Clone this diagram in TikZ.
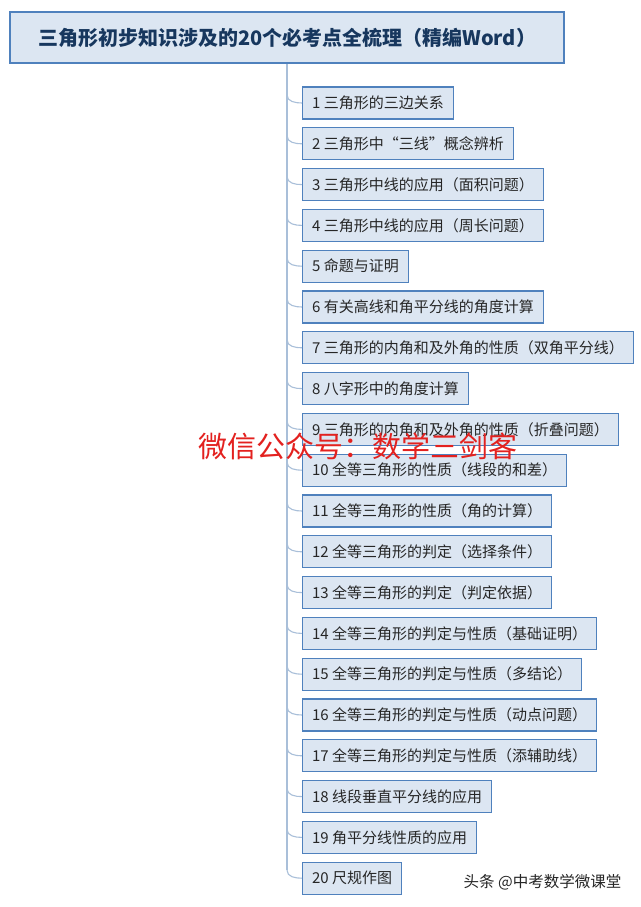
\documentclass[tikz,border=0pt]{standalone}
\usepackage{fontspec}
\setmainfont{Noto Sans CJK SC}
\definecolor{boxblue}{HTML}{4F81BD}
\definecolor{boxfill}{HTML}{DCE6F2}
\definecolor{titletext}{HTML}{17375E}
\definecolor{itemtext}{HTML}{262626}
\definecolor{trunkcol}{HTML}{A9BFD9}
\definecolor{wmred}{HTML}{E3211F}
\tikzset{
  itembox/.style={draw=boxblue, line width=1.2pt, fill=boxfill, anchor=west,
    minimum height=32pt, inner xsep=9.5pt, inner ysep=0pt,
    font=\fontsize{15}{15}\selectfont, text=itemtext},
  titlebox/.style={draw=boxblue, line width=2.6pt, fill=boxfill,
    minimum width=554pt, minimum height=51pt, inner sep=0pt,
    font=\fontsize{20}{20}\selectfont\bfseries, text=titletext},
  trunk/.style={draw=trunkcol, line width=1.1pt},
}
\begin{document}
\begin{tikzpicture}[x=1pt,y=-1pt]
\useasboundingbox (0,0) rectangle (640,907);
\fill[white] (0,0) rectangle (640,907);
\node[titlebox] (title) at (287,37.5) {三角形初步知识涉及的20个必考点全梳理（精编Word）};
\foreach \i/\t in {
 1/{1 三角形的三边关系},
 2/{2 三角形中“三线”概念辨析},
 3/{3 三角形中线的应用（面积问题）},
 4/{4 三角形中线的应用（周长问题）},
 5/{5 命题与证明},
 6/{6 有关高线和角平分线的角度计算},
 7/{7 三角形的内角和及外角的性质（双角平分线）},
 8/{8 八字形中的角度计算},
 9/{9 三角形的内角和及外角的性质（折叠问题）},
 10/{10 全等三角形的性质（线段的和差）},
 11/{11 全等三角形的性质（角的计算）},
 12/{12 全等三角形的判定（选择条件）},
 13/{13 全等三角形的判定（判定依据）},
 14/{14 全等三角形的判定与性质（基础证明）},
 15/{15 全等三角形的判定与性质（多结论）},
 16/{16 全等三角形的判定与性质（动点问题）},
 17/{17 全等三角形的判定与性质（添辅助线）},
 18/{18 线段垂直平分线的应用},
 19/{19 角平分线性质的应用},
 20/{20 尺规作图}} {
  \pgfmathsetmacro{\yc}{103+(\i-1)*40.8}
  \node[itembox] (b\i) at (302,\yc) {\t};
  \coordinate (t\i) at (287,\yc-8);
}
\draw[trunk] (title.south) -- (t20);
\foreach \i in {1,...,20} {
  \draw[trunk] (t\i) to[out=-90,in=180] (b\i.west);
}
\node[text=wmred, font=\fontsize{29}{29}\selectfont, inner sep=0pt] (wm) at (357.5,446) {微信公众号：数学三剑客};
\node[text=itemtext, font=\fontsize{15.5}{15.5}\selectfont, inner sep=0pt] (tt) at (542.5,882) {头条 @中考数学微课堂};
\end{tikzpicture}
\end{document}
